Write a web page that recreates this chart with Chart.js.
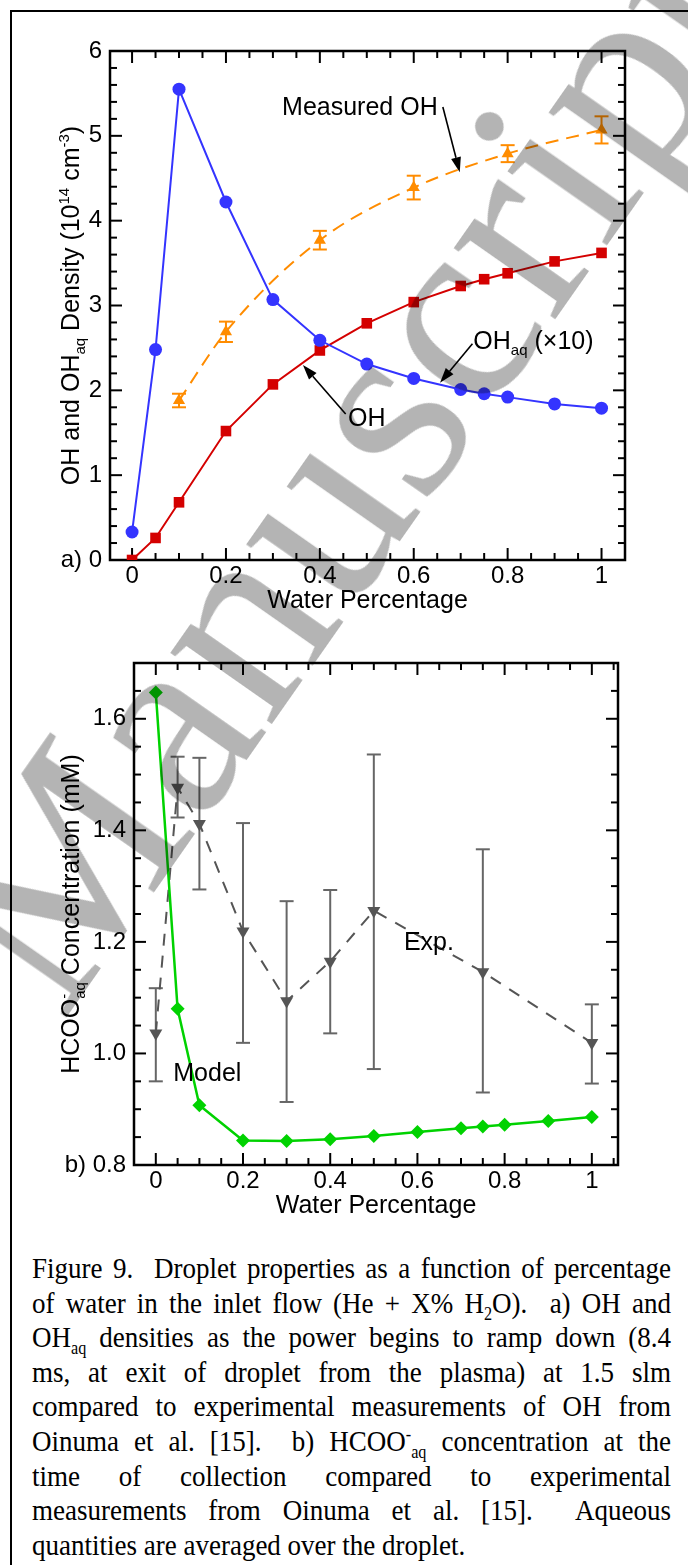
<!DOCTYPE html>
<html>
<head>
<meta charset="utf-8">
<script src="https://cdn.jsdelivr.net/npm/chart.js@4.4.0/dist/chart.umd.min.js"></script>
<style>
html, body { margin: 0; padding: 0; background: #fff; }
body { width: 688px; height: 1565px; position: relative; overflow: hidden; }
#frame { position: absolute; left: 10px; top: 10px; width: 700px; height: 1600px; border: 2px solid #000; box-sizing: border-box; }
#chartA { position: absolute; left: 0; top: 0; }
#chartB { position: absolute; left: 0; top: 620px; }
#caption { position: absolute; left: 32px; top: 1251px; width: 710px; transform: scaleX(0.9); transform-origin: 0 0;
  font-family: "Liberation Serif", "Times New Roman", serif; font-size: 30px; color: #000; }
#caption .ln { height: 34.6px; line-height: 34.6px; text-align: justify; text-align-last: justify; }
#caption .ln.last { text-align-last: left; }
#caption sub, #caption sup { font-size: 60%; line-height: 0; }
#watermark { position: absolute; left: 340px; top: 468px; transform: translate(-50%, -50%) rotate(-55deg);
  font-family: "Liberation Serif", serif; font-size: 270px; line-height: 270px; color: #b4b4b4;
  mix-blend-mode: multiply; white-space: nowrap; pointer-events: none; }
</style>
</head>
<body>
<div id="frame"></div>
<canvas id="chartA" width="688" height="620"></canvas>
<canvas id="chartB" width="688" height="600"></canvas>
<div id="caption">
  <div class="ln">Figure 9.&nbsp; Droplet properties as a function of percentage</div>
  <div class="ln">of water in the inlet flow (He + X% H<sub>2</sub>O).&nbsp; a) OH and</div>
  <div class="ln">OH<sub>aq</sub> densities as the power begins to ramp down (8.4</div>
  <div class="ln">ms, at exit of droplet from the plasma) at 1.5 slm</div>
  <div class="ln">compared to experimental measurements of OH from</div>
  <div class="ln">Oinuma et al. [15].&nbsp; b) HCOO<sup>-</sup><sub>aq</sub> concentration at the</div>
  <div class="ln">time of collection compared to experimental</div>
  <div class="ln">measurements from Oinuma et al. [15].&nbsp; Aqueous</div>
  <div class="ln last">quantities are averaged over the droplet.</div>
</div>
<div id="watermark">Manuscript</div>

<script>
const FONT = '"Liberation Sans", Arial, sans-serif';

// a) OH and OHaq densities vs water percentage
const waterPct = [0, 0.05, 0.1, 0.2, 0.3, 0.4, 0.5, 0.6, 0.7, 0.75, 0.8, 0.9, 1];
const ohAqX10 = [0.33, 2.48, 5.55, 4.22, 3.07, 2.59, 2.31, 2.14, 2.01, 1.96, 1.92, 1.84, 1.79];
const ohModel = [0, 0.26, 0.68, 1.52, 2.07, 2.47, 2.79, 3.04, 3.23, 3.31, 3.38, 3.52, 3.62];
const measPct = [0.1, 0.2, 0.4, 0.6, 0.8, 1];
const measOH = [1.88, 2.69, 3.77, 4.39, 4.79, 5.07];
const measOHErr = [0.08, 0.12, 0.11, 0.14, 0.1, 0.16];

// b) HCOO-aq concentration vs water percentage
const hcooModel = [1.647, 1.08, 0.907, 0.844, 0.843, 0.846, 0.852, 0.859, 0.866, 0.869, 0.872, 0.879, 0.886];
const expPct = [0, 0.05, 0.1, 0.2, 0.3, 0.4, 0.5, 0.75, 1];
const expHcoo = [1.036, 1.477, 1.412, 1.219, 1.094, 1.165, 1.256, 1.146, 1.019];
const expHi = [1.117, 1.532, 1.53, 1.413, 1.273, 1.293, 1.536, 1.366, 1.088];
const expLo = [0.95, 1.423, 1.294, 1.019, 0.913, 1.036, 0.972, 0.93, 0.946];

// tick labels
const xTicks = [0, 0.2, 0.4, 0.6, 0.8, 1];
const xLabels = ['0', '0.2', '0.4', '0.6', '0.8', '1'];
const aYTicks = [0, 1, 2, 3, 4, 5, 6];
const aYLabels = ['a) 0', '1', '2', '3', '4', '5', '6'];
const bYTicks = [0.8, 1.0, 1.2, 1.4, 1.6];
const bYLabels = ['b) 0.8', '1.0', '1.2', '1.4', '1.6'];

function pts(xs, ys) { return xs.map((x, i) => ({ x: x, y: ys[i] })); }

function line(ctx, x1, y1, x2, y2) {
  ctx.beginPath(); ctx.moveTo(x1, y1); ctx.lineTo(x2, y2); ctx.stroke();
}

function eachTick(min, max, minor, major, fn) {
  const n0 = Math.ceil(min / minor - 1e-6), n1 = Math.floor(max / minor + 1e-6);
  for (let n = n0; n <= n1; n++) {
    const v = n * minor;
    const r = v / major;
    fn(v, Math.abs(r - Math.round(r)) < 1e-6);
  }
}

// text with sub/superscripts, y is the visual centre of the caps
function drawRich(ctx, segs, x, y, align) {
  let w = 0;
  segs.forEach(s => {
    ctx.font = (s.size || 25) + 'px ' + FONT;
    s.w = s.stack ? 0 : ctx.measureText(s.t).width;
    w += s.w;
  });
  let cx = align === 'center' ? x - w / 2 : (align === 'right' ? x - w : x);
  ctx.textAlign = 'left';
  ctx.textBaseline = 'alphabetic';
  segs.forEach(s => {
    ctx.font = (s.size || 25) + 'px ' + FONT;
    ctx.fillText(s.t, cx, y + 9 + (s.dy || 0));
    cx += s.w;
  });
}

function arrow(ctx, x1, y1, x2, y2) {
  const ang = Math.atan2(y2 - y1, x2 - x1), L = 15, H = 5;
  const bx = x2 - L * Math.cos(ang), by = y2 - L * Math.sin(ang);
  ctx.lineWidth = 1.6;
  line(ctx, x1, y1, bx, by);
  ctx.beginPath();
  ctx.moveTo(x2, y2);
  ctx.lineTo(bx + H * Math.sin(ang), by - H * Math.cos(ang));
  ctx.lineTo(bx - H * Math.sin(ang), by + H * Math.cos(ang));
  ctx.closePath(); ctx.fill();
}

// frame, inward ticks, error bars, titles and callouts
const figDecor = {
  id: 'figDecor',
  beforeDatasetsDraw(chart, args, o) {
    const ctx = chart.ctx, a = chart.chartArea, x = chart.scales.x, y = chart.scales.y;
    ctx.save();
    ctx.strokeStyle = '#000';
    ctx.lineWidth = 2;
    eachTick(x.min, x.max, o.xMinor, o.xMajor, (v, major) => {
      const p = x.getPixelForValue(v), len = major ? 12 : 7;
      line(ctx, p, a.bottom, p, a.bottom - len);
      line(ctx, p, a.top, p, a.top + len);
    });
    eachTick(y.min, y.max, o.yMinor, o.yMajor, (v, major) => {
      const p = y.getPixelForValue(v), len = major ? 12 : 7;
      line(ctx, a.left, p, a.left + len, p);
      line(ctx, a.right, p, a.right - len, p);
    });
    ctx.lineWidth = 2.5;
    ctx.strokeRect(a.left, a.top, a.right - a.left, a.bottom - a.top);

    chart.data.datasets.forEach(ds => {
      if (!ds.errHi) return;
      ctx.strokeStyle = ds.errColor || ds.borderColor;
      ctx.lineWidth = 2;
      ds.data.forEach((p, j) => {
        const px = x.getPixelForValue(p.x);
        const hi = y.getPixelForValue(ds.errHi[j]), lo = y.getPixelForValue(ds.errLo[j]);
        line(ctx, px, hi, px, lo);
        line(ctx, px - 7, hi, px + 7, hi);
        line(ctx, px - 7, lo, px + 7, lo);
      });
    });
    ctx.restore();
  },
  afterDraw(chart, args, o) {
    const ctx = chart.ctx, a = chart.chartArea, x = chart.scales.x, y = chart.scales.y;
    ctx.save();
    ctx.fillStyle = '#000';
    ctx.strokeStyle = '#000';
    drawRich(ctx, o.xTitle, (a.left + a.right) / 2, o.xTitleY, 'center');
    ctx.save();
    ctx.translate(o.yTitleX, (a.top + a.bottom) / 2);
    ctx.rotate(-Math.PI / 2);
    drawRich(ctx, o.yTitle, 0, 0, 'center');
    ctx.restore();
    (o.notes || []).forEach(n => {
      drawRich(ctx, n.segs, x.getPixelForValue(n.x), y.getPixelForValue(n.y), n.align);
    });
    (o.arrows || []).forEach(r => {
      arrow(ctx, x.getPixelForValue(r.from[0]), y.getPixelForValue(r.from[1]),
        x.getPixelForValue(r.to[0]), y.getPixelForValue(r.to[1]));
    });
    ctx.restore();
  }
};

function axes(xMin, xMax, yMin, yMax, yTicks, yLabels, yWidth, xHeight) {
  const tickFont = { family: FONT, size: 24 };
  return {
    x: {
      type: 'linear', min: xMin, max: xMax,
      afterBuildTicks: s => { s.ticks = xTicks.map(v => ({ value: v })); },
      afterFit: s => { s.height = xHeight; },
      ticks: { autoSkip: false, maxRotation: 0, padding: 2, color: '#000', font: tickFont,
        callback: (v, i) => xLabels[i] },
      grid: { display: false, drawTicks: false },
      border: { display: false }
    },
    y: {
      type: 'linear', min: yMin, max: yMax,
      afterBuildTicks: s => { s.ticks = yTicks.map(v => ({ value: v })); },
      afterFit: s => { s.width = yWidth; },
      ticks: { autoSkip: false, padding: 8, color: '#000', font: tickFont,
        callback: (v, i) => yLabels[i] },
      grid: { display: false, drawTicks: false },
      border: { display: false }
    }
  };
}

const blue = '#3434ff', red = '#d40000', orange = '#ff8c00', green = '#00d200', grey = '#555555';

new Chart(document.getElementById('chartA'), {
  type: 'line',
  data: {
    datasets: [
      { label: 'OHaq (x10)', data: pts(waterPct, ohAqX10), borderColor: blue, backgroundColor: blue,
        borderWidth: 2, pointStyle: 'circle', pointRadius: 6.5, pointBorderWidth: 0 },
      { label: 'OH', data: pts(waterPct, ohModel), borderColor: red, backgroundColor: red,
        borderWidth: 2, pointStyle: 'rect', pointRadius: 7.5, pointBorderWidth: 0 },
      { label: 'Measured OH', data: pts(measPct, measOH), borderColor: orange, backgroundColor: orange,
        borderWidth: 2, borderDash: [13, 8], cubicInterpolationMode: 'monotone',
        pointStyle: 'triangle', pointRadius: 7, pointBorderWidth: 0,
        errHi: measOH.map((v, i) => v + measOHErr[i]), errLo: measOH.map((v, i) => v - measOHErr[i]) }
    ]
  },
  options: {
    responsive: false, animation: false, devicePixelRatio: 1,
    layout: { padding: { left: 0, top: 51, right: 63, bottom: 0 } },
    scales: axes(-0.047, 1.05, 0, 6, aYTicks, aYLabels, 110, 60),
    plugins: {
      legend: { display: false }, tooltip: { enabled: false },
      figDecor: {
        xMinor: 0.05, xMajor: 0.2, yMinor: 0.2, yMajor: 1,
        xTitle: [{ t: 'Water Percentage' }], xTitleY: 599,
        yTitleX: 70,
        yTitle: [{ t: 'OH and OH' }, { t: 'aq', size: 15, dy: 6 }, { t: ' Density (10' },
          { t: '14', size: 15, dy: -10 }, { t: ' cm' }, { t: '-3', size: 15, dy: -10 }, { t: ')' }],
        notes: [
          { segs: [{ t: 'Measured OH' }], x: 0.651, y: 5.35, align: 'right' },
          { segs: [{ t: 'OH' }, { t: 'aq', size: 15, dy: 6 }, { t: ' (\u00d710)' }], x: 0.727, y: 2.59, align: 'left' },
          { segs: [{ t: 'OH' }], x: 0.46, y: 1.68, align: 'left' }
        ],
        arrows: [
          { from: [0.662, 5.34], to: [0.698, 4.57] },
          { from: [0.725, 2.55], to: [0.656, 2.09] },
          { from: [0.455, 1.72], to: [0.364, 2.3] }
        ]
      }
    }
  },
  plugins: [figDecor]
});

new Chart(document.getElementById('chartB'), {
  type: 'line',
  data: {
    datasets: [
      { label: 'Model', data: pts(waterPct, hcooModel), borderColor: green, backgroundColor: green,
        borderWidth: 2.5, pointStyle: 'rectRot', pointRadius: 7, pointBorderWidth: 0 },
      { label: 'Exp.', data: pts(expPct, expHcoo), borderColor: grey, backgroundColor: grey,
        borderWidth: 2, borderDash: [12, 10], pointStyle: 'triangle', pointRotation: 180,
        pointRadius: 7.5, pointBorderWidth: 0, errColor: '#666666', errHi: expHi, errLo: expLo }
    ]
  },
  options: {
    responsive: false, animation: false, devicePixelRatio: 1,
    layout: { padding: { left: 0, top: 43, right: 70, bottom: 0 } },
    scales: axes(-0.05, 1.06, 0.8, 1.7, bYTicks, bYLabels, 134, 55),
    plugins: {
      legend: { display: false }, tooltip: { enabled: false },
      figDecor: {
        xMinor: 0.05, xMajor: 0.2, yMinor: 0.05, yMajor: 0.2,
        xTitle: [{ t: 'Water Percentage' }], xTitleY: 584,
        yTitleX: 70,
        yTitle: [{ t: 'HCOO' }, { t: '-', size: 15, dy: -10, stack: true }, { t: 'aq', size: 15, dy: 6 },
          { t: ' Concentration (mM)' }],
        notes: [
          { segs: [{ t: 'Exp.' }], x: 0.569, y: 1.202, align: 'left' },
          { segs: [{ t: 'Model' }], x: 0.04, y: 0.967, align: 'left' }
        ]
      }
    }
  },
  plugins: [figDecor]
});
</script>
</body>
</html>
